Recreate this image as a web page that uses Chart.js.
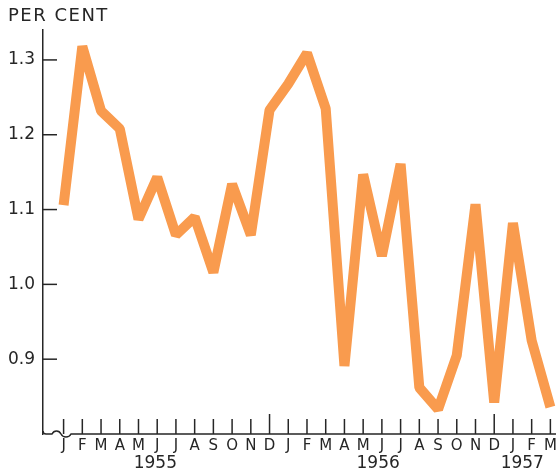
<!DOCTYPE html>
<html>
<head>
<meta charset="utf-8">
<script src="https://cdn.jsdelivr.net/npm/chart.js@4"></script>
<style>
html, body { margin: 0; padding: 0; background: #fff; }
</style>
</head>
<body>
<canvas id="rateChart" width="556" height="473"></canvas>
<script>
// DATA
const months = ["J","F","M","A","M","J","J","A","S","O","N","D",
                "J","F","M","A","M","J","J","A","S","O","N","D",
                "J","F","M"];
const rates = [1.106, 1.318, 1.232, 1.208, 1.087, 1.143, 1.066, 1.090, 1.016, 1.134, 1.066, 1.233,
               1.268, 1.309, 1.235, 0.891, 1.147, 1.038, 1.161, 0.862, 0.833, 0.905, 1.107, 0.842,
               1.082, 0.925, 0.836];
const yTicks = [0.9, 1.0, 1.1, 1.2, 1.3];
const years = ["1955", "1956", "1957"];
const yearAt = [4.9, 16.8, 24.5];   // month index under which each year is centred
const yearEnds = [11, 23];          // December ticks drawn taller

const INK = "#262626";
const FONT = "'DejaVu Sans', sans-serif";

// axis marks: inward ticks, broken x axis, unit label
const axisMarks = {
    id: "axisMarks",
    beforeDatasetsDraw(chart) {
        const { ctx, chartArea, scales } = chart;
        const L = chartArea.left, B = chartArea.bottom;
        ctx.save();
        ctx.strokeStyle = INK;
        ctx.lineWidth = 1.5;

        // x axis with a break near the origin
        ctx.beginPath();
        ctx.moveTo(L, B - 3);
        ctx.quadraticCurveTo(L, B, L + 3, B);
        ctx.lineTo(L + 9, B);
        ctx.bezierCurveTo(L + 11, B - 4, L + 16, B - 4, L + 18, B);
        ctx.bezierCurveTo(L + 20, B + 4, L + 26, B + 4, L + 28, B);
        ctx.lineTo(chartArea.right, B);
        ctx.stroke();

        // month ticks
        months.forEach((m, i) => {
            const x = scales.x.getPixelForValue(i);
            const len = yearEnds.includes(i) ? 20 : 15;
            ctx.beginPath();
            ctx.moveTo(x, B);
            ctx.lineTo(x, B - len);
            ctx.stroke();
        });

        // value ticks
        yTicks.forEach(v => {
            const y = scales.y.getPixelForValue(v);
            ctx.beginPath();
            ctx.moveTo(L, y);
            ctx.lineTo(L + 14, y);
            ctx.stroke();
        });

        // unit label
        ctx.fillStyle = INK;
        ctx.font = "18px " + FONT;
        ctx.letterSpacing = "1.5px";
        ctx.textBaseline = "alphabetic";
        ctx.fillText("PER CENT", 8, 21);
        ctx.restore();
    }
};

new Chart(document.getElementById("rateChart"), {
    type: "line",
    data: {
        datasets: [{
            data: rates.map((v, i) => ({ x: i, y: v })),
            borderColor: "#F99B4E",
            borderWidth: 10,
            borderJoinStyle: "bevel",
            borderCapStyle: "butt",
            pointRadius: 0,
            tension: 0,
            fill: false
        }]
    },
    options: {
        responsive: false,
        devicePixelRatio: 1,
        animation: false,
        layout: { padding: { top: 30, left: 0, right: 0, bottom: 0 } },
        plugins: {
            legend: { display: false },
            tooltip: { enabled: false }
        },
        scales: {
            x: {
                type: "linear",
                min: -1.1,
                max: 26.3,
                grid: { display: false, drawTicks: false },
                border: { display: false },
                afterBuildTicks: s => { s.ticks = months.map((m, i) => ({ value: i })); },
                // labels are clipped to the scale box, so keep it tall enough
                afterFit: s => { s.height = 21; s.paddingLeft = 0; s.paddingRight = 0; },
                ticks: {
                    autoSkip: false,
                    maxRotation: 0,
                    minRotation: 0,
                    padding: 5,
                    color: INK,
                    font: { family: FONT, size: 15, lineHeight: 1 },
                    callback: v => months[v]
                }
            },
            x2: {
                type: "linear",
                position: "bottom",
                weight: 1,
                min: -1.1,
                max: 26.3,
                grid: { display: false, drawTicks: false },
                border: { display: false },
                afterBuildTicks: s => { s.ticks = yearAt.map(v => ({ value: v })); },
                afterFit: s => { s.height = 18; s.paddingLeft = 0; s.paddingRight = 0; },
                ticks: {
                    autoSkip: false,
                    maxRotation: 0,
                    minRotation: 0,
                    padding: 0,
                    color: INK,
                    font: { family: FONT, size: 17, lineHeight: 1 },
                    callback: (v, i) => years[i]
                }
            },
            y: {
                min: 0.8,
                max: 1.34,
                grid: { display: false, drawTicks: false },
                border: { display: true, color: INK, width: 1.5 },
                afterBuildTicks: s => { s.ticks = yTicks.map(v => ({ value: v })); },
                afterFit: s => { s.width = 43; },
                ticks: {
                    padding: 8,
                    color: INK,
                    font: { family: FONT, size: 17 },
                    callback: v => v.toFixed(1)
                }
            }
        }
    },
    plugins: [axisMarks]
});
</script>
</body>
</html>
